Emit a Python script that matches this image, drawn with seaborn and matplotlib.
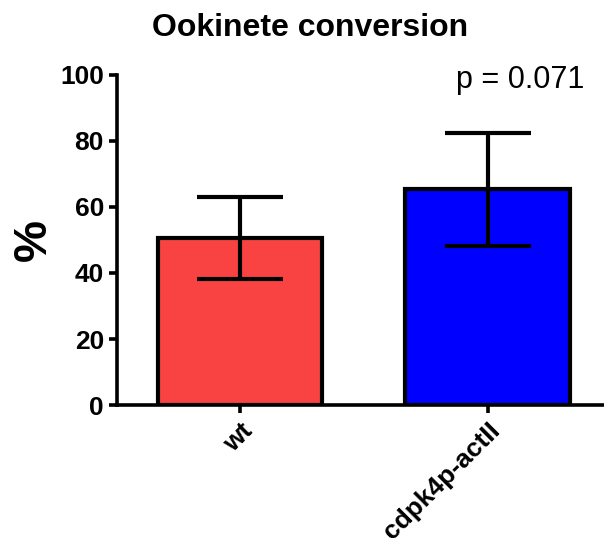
import pandas as pd
import numpy as np
import seaborn as sns
import matplotlib
matplotlib.use("Agg")
import matplotlib.pyplot as plt

sns.set_style("ticks")
plt.rcParams['font.family'] = ['Liberation Sans', 'DejaVu Sans']
plt.rcParams['text.color'] = 'black'
plt.rcParams['axes.labelcolor'] = 'black'
plt.rcParams['xtick.color'] = 'black'
plt.rcParams['ytick.color'] = 'black'
plt.rcParams['axes.edgecolor'] = 'black'

#data
groups = ["wt", "cdpk4p-actII"]
means = [50.6, 65.4]
err_low = [38.2, 48.2]
err_high = [63.0, 82.4]
bar_colors = ["#F94343", "#0000FF"]

df = pd.DataFrame({"group": groups, "pct": means})

fig = plt.figure(figsize=(6.04, 5.38), dpi=100)
ax = fig.add_axes([0.194, 0.247, 0.804, 0.614])

sns.barplot(data=df, x="group", y="pct", hue="group", palette=bar_colors,
            width=0.665, edgecolor="black", linewidth=3, legend=False,
            saturation=1, errorbar=None, ax=ax)

#error bars (mean +/- sd)
yerr = [np.array(means) - np.array(err_low), np.array(err_high) - np.array(means)]
eb = ax.errorbar(range(len(groups)), means, yerr=yerr, fmt="none", ecolor="black",
                 elinewidth=3, capsize=31, capthick=3, zorder=5)
for c in eb[1]:
    c.set_solid_capstyle("round")

ax.set_xlim(-0.496, 1.464)
ax.set_ylim(0, 100)
ax.set_yticks([0, 20, 40, 60, 80, 100])
for s in ["top", "right"]:
    ax.spines[s].set_visible(False)
for s in ["left", "bottom"]:
    ax.spines[s].set_linewidth(2.6)
ax.tick_params(axis="both", width=2.6, length=6, labelsize=19)
for lab in ax.get_yticklabels():
    lab.set_fontweight("bold")
ax.set_xticks(range(len(groups)))
ax.set_xticklabels(groups, rotation=45, ha="right", rotation_mode="anchor",
                   fontsize=19, fontweight="bold")

ax.set_xlabel("")
ax.set_ylabel("%", fontsize=34, fontweight="bold", labelpad=3)
fig.text(0.513, 0.948, "Ookinete conversion", fontsize=23, fontweight="bold",
         ha="center", va="center")
ax.text(1.132, 98.5, "p = 0.071", fontsize=22, ha="center", va="center")

plt.savefig("out.png", dpi=100)
